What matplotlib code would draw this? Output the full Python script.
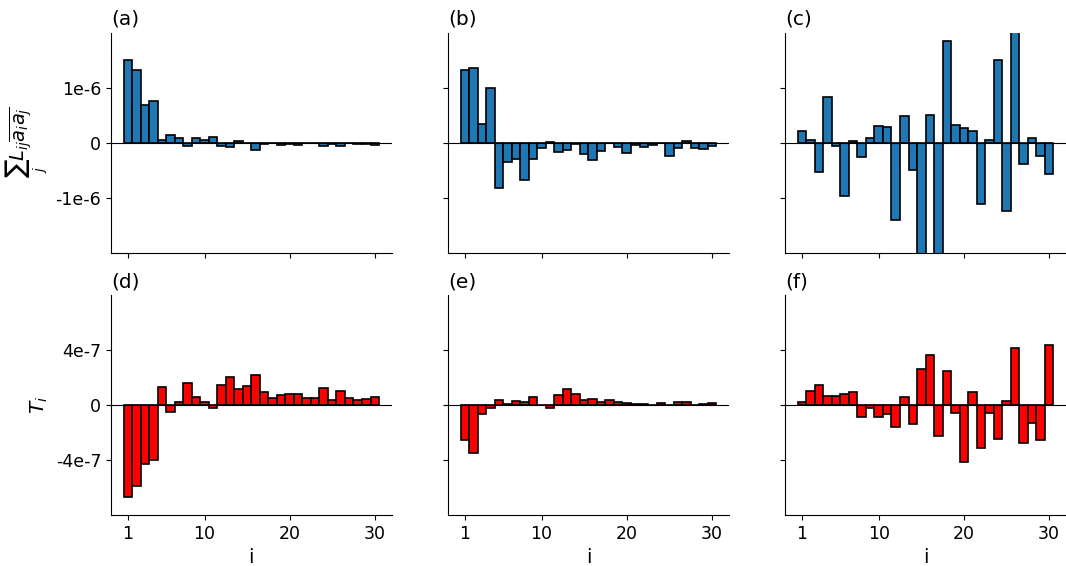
import numpy as np
import matplotlib
matplotlib.use("Agg")
import matplotlib.pyplot as plt

idx = np.arange(1, 31)

# top row: sum_j L_ij <a_i a_j>  (units of 1e-6)
lij_a = [1.51, 1.32, 0.68, 0.77, 0.06, 0.15, 0.09, -0.05, 0.09, 0.06,
         0.10, -0.05, -0.07, 0.04, -0.01, -0.13, -0.03, 0.00, -0.04, -0.02,
         -0.04, 0.00, -0.01, -0.06, -0.02, -0.06, -0.01, -0.02, -0.03, -0.04]
lij_b = [1.32, 1.36, 0.35, 0.99, -0.82, -0.35, -0.29, -0.68, -0.30, -0.10,
         0.02, -0.17, -0.13, -0.02, -0.20, -0.32, -0.15, -0.01, -0.07, -0.18,
         -0.04, -0.07, -0.04, -0.01, -0.24, -0.10, 0.03, -0.10, -0.12, -0.05]
lij_c = [0.22, 0.05, -0.53, 0.83, -0.05, -0.97, 0.04, -0.26, 0.08, 0.30,
         0.29, -1.41, 0.49, -0.50, -2.30, 0.50, -2.50, 1.85, 0.32, 0.27,
         0.21, -1.11, 0.05, 1.50, -1.24, 2.30, -0.38, 0.08, -0.24, -0.56]

# bottom row: T_i  (units of 1e-7)
t_d = [-6.70, -5.88, -4.27, -3.98, 1.32, -0.46, 0.24, 1.63, 0.61, 0.24,
       -0.22, 1.44, 2.07, 1.20, 1.39, 2.20, 0.93, 0.54, 0.76, 0.83,
       0.83, 0.49, 0.54, 1.22, 0.37, 1.05, 0.54, 0.37, 0.44, 0.59]
t_e = [-2.54, -3.49, -0.66, -0.17, 0.39, 0.12, 0.32, 0.24, 0.59, 0.02,
       -0.17, 0.71, 1.17, 0.85, 0.37, 0.44, 0.24, 0.39, 0.22, 0.15,
       0.12, 0.12, 0.05, 0.17, -0.02, 0.27, 0.20, -0.02, 0.07, 0.15]
t_f = [0.27, 1.02, 1.49, 0.68, 0.68, 0.80, 0.98, -0.88, -0.17, -0.83,
       -0.61, -1.61, 0.63, -1.39, 2.66, 3.68, -2.27, 2.49, -0.56, -4.17,
       0.93, -3.15, -0.56, -2.44, 0.32, 4.15, -2.78, -1.29, -2.56, 4.41]

top_series = [np.array(lij_a) * 1e-6, np.array(lij_b) * 1e-6, np.array(lij_c) * 1e-6]
bot_series = [np.array(t_d) * 1e-7, np.array(t_e) * 1e-7, np.array(t_f) * 1e-7]
top_titles = ['(a)', '(b)', '(c)']
bot_titles = ['(d)', '(e)', '(f)']

fig, axes = plt.subplots(2, 3, figsize=(10.66, 5.66), dpi=100)
fig.subplots_adjust(left=0.104, right=1.0, top=0.9417, bottom=0.0901,
                    wspace=0.2, hspace=0.195)

for row, (series, titles, color, lim, ticks, labels) in enumerate([
        (top_series, top_titles, '#1f77b4', 2e-6, [-1e-6, 0, 1e-6], ['-1e-6', '0', '1e-6']),
        (bot_series, bot_titles, 'red', 8e-7, [-4e-7, 0, 4e-7], ['-4e-7', '0', '4e-7'])]):
    for col in range(3):
        ax = axes[row, col]
        ax.bar(idx, series[col], width=1.0, color=color, edgecolor='black', linewidth=1.2)
        ax.axhline(0, color='black', linewidth=0.8)
        ax.set_ylim(-lim, lim)
        ax.set_yticks(ticks)
        ax.set_xticks([1, 10, 20, 30])
        ax.spines['top'].set_visible(False)
        ax.spines['right'].set_visible(False)
        ax.set_title(titles[col], loc='left', fontsize=14.5)
        ax.tick_params(labelsize=12.5)
        if col == 0:
            ax.set_yticklabels(labels)
        else:
            ax.set_yticklabels([])
        if row == 0:
            ax.set_xticklabels([])
        else:
            ax.set_xlabel('i', fontsize=14)

axes[0, 0].set_ylabel(r'$\sum_j L_{ij}\overline{a_i a_j}$', fontsize=14)
axes[1, 0].set_ylabel(r'$T_i$', fontsize=14.5)

fig.savefig('out.png')
